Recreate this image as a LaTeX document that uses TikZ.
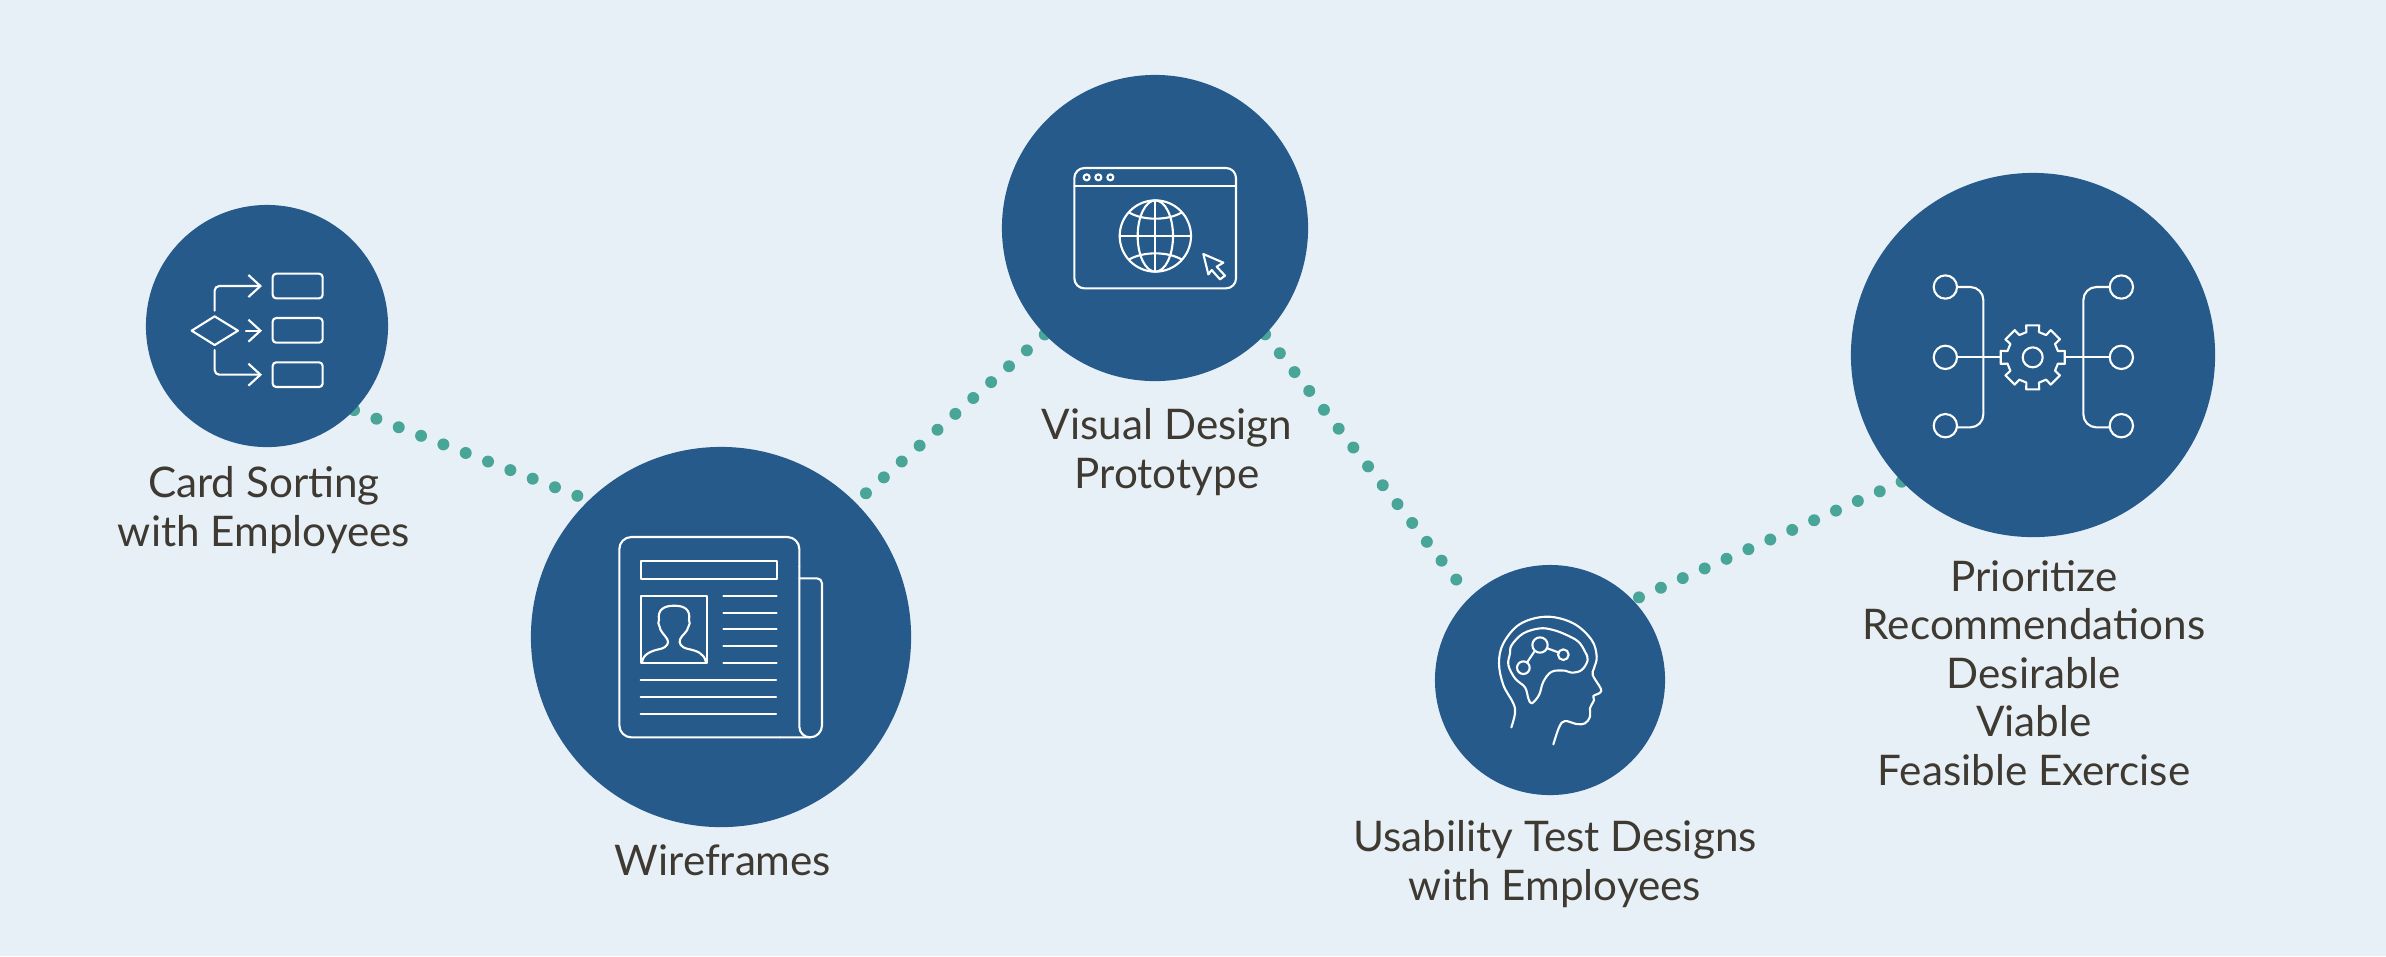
\documentclass[tikz,border=0pt]{standalone}
\usepackage{fontspec}
\setmainfont{Lato}
\usepackage{xcolor}
\usetikzlibrary{arrows.meta,positioning,backgrounds}
\definecolor{cA}{HTML}{255a8a}
\definecolor{cB}{HTML}{e8f0f7}
\definecolor{cC}{HTML}{49a598}
\definecolor{cD}{HTML}{3e3a32}
\tikzset{
  disc/.style={circle,fill=cA,inner sep=0pt,outer sep=0pt,minimum size=#1},
  trail/.style={cC,line width=3.4pt,line cap=round,dash pattern=on 0pt off 6.8pt},
  icon/.style={white,line width=0.6pt,line cap=round,line join=round},
  barb/.style={-{Straight Barb[length=1.2mm,width=2.2mm]}},
  caption/.style={cD,align=center,font=\fontsize{12}{13.8}\selectfont},
}
\begin{document}
\begin{tikzpicture}[x=0.01cm,y=-0.01cm]
  \node[disc=2.42cm] (card) at (267,326) {};
  \node[disc=3.80cm] (wire) at (721,637) {};
  \node[disc=3.06cm] (visual) at (1155,228) {};
  \node[disc=2.30cm] (test) at (1550,680) {};
  \node[disc=3.64cm] (prior) at (2033,355) {};

  \begin{pgfonlayer}{background}
    \fill[cB] (0,0) rectangle (2386,956);
    \draw[trail] (card.-44.6) -- (wire.134.7);
    \draw[trail,dash phase=2.8pt] (wire.45.3) -- (visual.224.9);
    \draw[trail,shorten >=5.5pt] (visual.-44.4) -- (test.134.6);
    \draw[trail,dash phase=4.87pt] (test.44.5) -- (prior.224.9);
  \end{pgfonlayer}

  \node[caption] (cardtext) at (264,510) {Card Sorting\\with Employees};
  \node[caption] (wiretext) at (723,860) {Wireframes};
  \node[caption] (visualtext) at (1167,452) {Visual Design\\Prototype};
  \node[caption] (testtext) at (1555,864) {Usability Test Designs\\with Employees};
  \node[caption] (priortext) at (2034,673) {Prioritize\\Recommendations\\Desirable\\Viable\\Feasible Exercise};

  % flow chart
  \begin{scope}[shift={(130,190)},scale=1/3,icon]
    \foreach \y in {251,384,517}{
      \draw[rounded corners=1pt] (428,\y) rectangle (578,\y+74);
    }
    \draw (185,422) -- (254,379) -- (324,422) -- (254,465) -- cycle;
    \draw[barb,rounded corners=1.3pt] (254,362) -- (254,288) -- (396,288);
    \draw[barb] (348,422) -- (396,422);
    \draw[barb,rounded corners=1.3pt] (254,480) -- (254,554) -- (396,554);
  \end{scope}

  % newspaper
  \begin{scope}[shift={(580,500)},scale=1/3,icon]
    \draw[rounded corners=1.2mm] (658,200) -- (658,111) -- (118,111) -- (118,712) -- (600,712);
    \draw (600,712) -- (690,712) arc[start angle=90,end angle=0,radius=36] -- (726,250)
      arc[start angle=0,end angle=-90,radius=15] -- (658,235);
    \draw (658,200) -- (658,680) arc[start angle=180,end angle=90,radius=32];
    \draw (182,184) rectangle (590,238);
    \draw (182,287) rectangle (381,490);
    \foreach \y in {287,338,388,439,490}{
      \draw (430,\y) -- (590,\y);
    }
    \foreach \y in {541,591,642}{
      \draw (182,\y) -- (588,\y);
    }
    \draw (187,484) .. controls (190,462) and (215,452) .. (240,447)
      .. controls (262,442) and (268,428) .. (262,418)
      .. controls (255,405) and (240,395) .. (238,378)
      .. controls (232,372) and (236,365) .. (237,360)
      .. controls (232,330) and (250,317) .. (283,317)
      .. controls (315,317) and (332,330) .. (327,360)
      .. controls (330,368) and (330,372) .. (326,378)
      .. controls (322,398) and (305,405) .. (300,418)
      .. controls (296,430) and (302,442) .. (325,447)
      .. controls (350,452) and (372,460) .. (377,484);
  \end{scope}

  % browser window
  \begin{scope}[shift={(1040,140)},scale=1/3,icon]
    \draw[rounded corners=1mm] (103,84) rectangle (588,445);
    \draw (103,139) -- (588,139);
    \foreach \x in {140,175,211}{
      \draw (\x,112) circle (9);
    }
    \draw (346,288) circle (107);
    \draw (346,288) ellipse (53 and 107);
    \draw (346,181) -- (346,395);
    \draw (239,288) -- (453,288);
    \draw (268,218) .. controls (310,242) and (382,242) .. (424,218);
    \draw (268,358) .. controls (310,334) and (382,334) .. (424,358);
    \draw (490,342) -- (550,368) -- (530,380) -- (555,407) -- (540,418) -- (515,390) -- (505,403) -- cycle;
  \end{scope}

  % head
  \begin{scope}[shift={(1470,600)},scale=1/3,icon]
    \draw plot[smooth,tension=.6] coordinates {(124,382) (135,340) (130,310) (100,255) (87,190)
      (100,130) (150,72) (230,50) (310,70) (365,120) (380,170) (372,205) (368,225) (392,265)
      (390,278) (370,288) (372,300) (360,325) (360,350) (345,370) (320,372) (285,363) (268,380) (250,433)};
    \draw plot[smooth cycle,tension=.6] coordinates {(120,160) (125,135) (160,100) (210,85) (250,90)
      (290,105) (325,125) (345,155) (353,180) (335,210) (305,218) (285,212) (245,215) (220,245)
      (207,285) (185,310) (175,295) (165,262) (135,235) (115,195)};
    \draw (210,135) circle (23);
    \draw (280,164) circle (16);
    \draw (160,203) circle (19);
    \draw (232,145) -- (265,157);
    \draw (194,153) -- (172,186);
  \end{scope}

  % gear and branches
  \begin{scope}[shift={(1920,260)},scale=1/3,icon]
    \foreach \x in {76,604}{
      \foreach \y in {81,292,497}{
        \draw (\x,\y) circle (35);
      }
    }
    \draw[rounded corners=1.3mm] (112,81) -- (190,81) -- (190,502) -- (112,502);
    \draw[rounded corners=1.3mm] (570,81) -- (490,81) -- (490,502) -- (570,502);
    \draw (112,292) -- (240,292);
    \draw (436,292) -- (570,292);
    \draw (338,292) circle (30);
    \begin{scope}[shift={(338,292)}]
      \foreach \a in {0,45,...,315}{
        \draw (\a-14:78) -- (\a-11.5:98) -- (\a+11.5:98) -- (\a+14:78) -- (\a+31:78);
      }
    \end{scope}
  \end{scope}
\end{tikzpicture}
\end{document}
